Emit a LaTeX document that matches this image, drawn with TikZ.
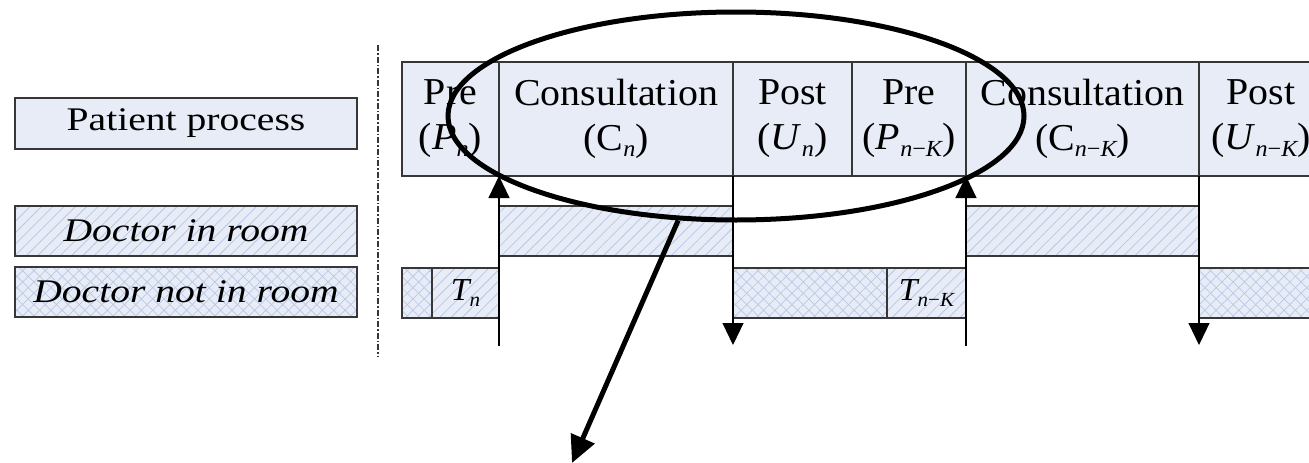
\documentclass[tikz,border=0pt]{standalone}
\usepackage{fontspec}
\setmainfont{Liberation Serif}
\newfontfamily\legfont[FakeStretch=1.2]{Liberation Serif}
\newfontfamily\cellfont[FakeStretch=1.05]{Liberation Serif}
\usetikzlibrary{arrows.meta,patterns.meta,shapes.geometric}

\definecolor{boxfill}{RGB}{231,236,247}
\definecolor{hatchc}{RGB}{184,200,230}
\definecolor{edgec}{RGB}{55,55,55}

% italic symbol and lowered italic index
\newcommand\mi[1]{\textit{#1}}
\newcommand\sbs[1]{\raisebox{-0.35ex}{\fontsize{23}{23}\selectfont\itshape #1}}
\newcommand\tsb[1]{\raisebox{-0.35ex}{\fontsize{20}{20}\selectfont\itshape #1}}

\tikzset{
  frame/.style={draw=edgec, line width=1.2pt, inner sep=0pt, outer sep=0pt, anchor=north west},
  plain/.style={frame, fill=boxfill},
  diag/.style={frame, preaction={fill=boxfill},
    pattern={Lines[angle=45,distance=8pt,line width=0.8pt]}, pattern color=hatchc},
  cross/.style={frame, preaction={fill=boxfill},
    preaction={pattern={Lines[angle=45,distance=8pt,line width=0.7pt]}, pattern color=hatchc},
    pattern={Lines[angle=-45,distance=8pt,line width=0.7pt]}, pattern color=hatchc},
  legend/.style={minimum width=342pt, minimum height=51pt,
    font=\legfont\fontsize{33}{40}\selectfont},
  cell/.style={plain, minimum height=114pt, align=center,
    font=\cellfont\fontsize{38}{45}\selectfont},
  bar/.style={minimum height=50pt},
  tlabel/.style={font=\cellfont\itshape\fontsize{32}{36}\selectfont},
  tline/.style={draw=black, line width=1.1pt},
  mark tip/.style={-{Triangle[width=21pt,length=22pt]}},
  dashdot/.style={draw=edgec, line width=1.2pt, dash pattern=on 6pt off 2pt on 1.5pt off 2pt},
}

\begin{document}
\begin{tikzpicture}[x=1pt,y=-1pt]
\useasboundingbox (0,0) rectangle (1309,463);
\clip (0,0) rectangle (1309,463);

% legend
\node[plain, legend] (lpat) at (15,98) {Patient process};
\node[diag, legend, minimum height=50pt] (lin) at (15,206) {\itshape Doctor in room};
\node[cross, legend, minimum height=50pt] (lout) at (15,267) {\itshape Doctor not in room};

% separator
\coordinate (sep1) at (378,45);
\coordinate (sep2) at (378,356);
\draw[dashdot] (sep1) -- (sep2);

% patient process row
\node[cell, minimum width=97pt]  (p1) at (402,62)  {Pre\\(\mi{P}\sbs{n})};
\node[cell, minimum width=234pt] (c1) at (499,62)  {Consultation\\(C\sbs{n})};
\node[cell, minimum width=119pt] (u1) at (733,62)  {Post\\(\mi{U}\sbs{n})};
\node[cell, minimum width=114pt] (p2) at (852,62)  {Pre\\(\mi{P}\sbs{n{\upshape −}K})};
\node[cell, minimum width=233pt] (c2) at (966,62)  {Consultation\\(C\sbs{n{\upshape −}K})};
\node[cell, minimum width=124pt] (u2) at (1199,62) {Post\\(\mi{U}\sbs{n{\upshape −}K})};

% doctor in room
\node[diag, bar, minimum width=234pt] (i1) at (499,206) {};
\node[diag, bar, minimum width=233pt] (i2) at (966,206) {};

% doctor not in room
\node[cross, bar, minimum width=30pt]  (o1) at (402,268) {};
\node[diag, bar, minimum width=67pt, tlabel] (t1) at (432,268) {\mi{T}\tsb{n}};
\node[cross, bar, minimum width=154pt] (o2) at (733,268) {};
\node[diag, bar, minimum width=79pt, tlabel] (t2) at (887,268) {\mi{T}\tsb{n{\upshape −}K}};
\node[cross, bar, minimum width=124pt] (o3) at (1199,268) {};

% time markers
\coordinate (b1) at (499,346);
\coordinate (d1) at (733,345);
\coordinate (b2) at (966,346);
\coordinate (d2) at (1199,345);
\draw[tline, mark tip] (b1) -- (c1.south west);
\draw[tline, mark tip] (u1.south west) -- (d1);
\draw[tline, mark tip] (b2) -- (c2.south west);
\draw[tline, mark tip] (u2.south west) -- (d2);

% highlighted span and pointer
\node[draw=black, ellipse, line width=5pt, minimum width=576pt, minimum height=208pt,
      inner sep=0pt] (focus) at (736,116) {};
\coordinate (ptr) at (572,463);
\draw[line width=5pt, -{Triangle[width=25pt,length=27pt]}] (focus.241) -- (ptr);
\end{tikzpicture}
\end{document}
